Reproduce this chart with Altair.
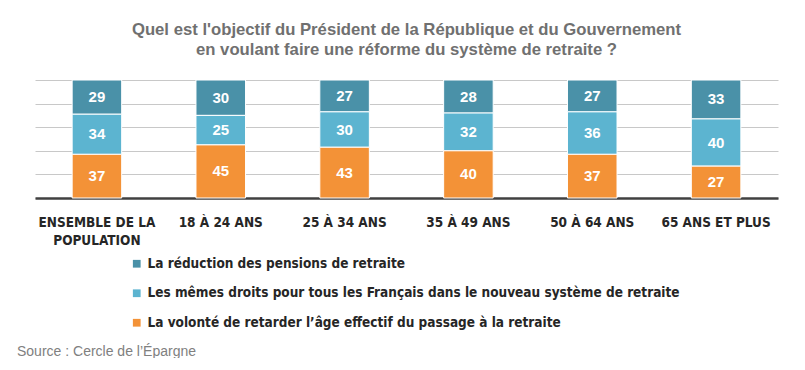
import altair as alt
import pandas as pd

categories = ["ENSEMBLE DE LA|POPULATION", "18 À 24 ANS", "25 À 34 ANS", "35 À 49 ANS", "50 À 64 ANS", "65 ANS ET PLUS"]
series = [
    "La réduction des pensions de retraite",
    "Les mêmes droits pour tous les Français dans le nouveau système de retraite",
    "La volonté de retarder l’âge effectif du passage à la retraite",
]
reduction = [29, 30, 27, 28, 27, 33]
memes_droits = [34, 25, 30, 32, 36, 40]
volonte = [37, 45, 43, 40, 37, 27]
colors = ["#4a91a8", "#5cb4d0", "#f39237"]
stack_order = [3, 2, 1]
grid_values = [0, 20, 40, 60, 80, 100]

title_lines = ["Quel est l'objectif du Président de la République et du Gouvernement",
               "en voulant faire une réforme du système de retraite  ?"]
source = "Source : Cercle  de l’Épargne"

COND = "DejaVu Sans Condensed"

rows = []
for s, vals, o in zip(series, [reduction, memes_droits, volonte], stack_order):
    for c, v in zip(categories, vals):
        rows.append({"cat": c, "serie": s, "value": v, "ord": o})
df = pd.DataFrame(rows)

base = alt.Chart(df).transform_stack(
    stack="value", groupby=["cat"], sort=[alt.SortField("ord", order="ascending")], as_=["y0", "y1"]
).transform_calculate(mid="(datum.y0 + datum.y1) / 2")

xaxis = alt.Axis(labelExpr="split(datum.label, '|')", labelAngle=0, ticks=False,
                 labelFont=COND, labelFontWeight="bold",
                 labelFontSize=13.5, labelColor="#262626", labelPadding=17,
                 labelLineHeight=18, labelLimit=300, labelBaseline="top",
                 domainColor="#404040", domainWidth=2.5)
xscale = alt.Scale(paddingInner=0.6, paddingOuter=0.3)
yaxis = alt.Axis(title=None, labels=False, ticks=False, domain=False,
                 grid=True, gridColor="#c8c8c8", values=grid_values)
yscale = alt.Scale(domain=[0, 100], nice=False)

bars = base.mark_bar(stroke="white", strokeWidth=1).encode(
    x=alt.X("cat:N", sort=categories, title=None, scale=xscale, axis=xaxis),
    y=alt.Y("y0:Q", scale=yscale, axis=yaxis, title=None),
    y2="y1:Q",
    color=alt.Color("serie:N", scale=alt.Scale(domain=series, range=colors),
                    legend=alt.Legend(title=None, orient="none", legendX=95, legendY=177,
                                      symbolType="square", symbolSize=60, symbolStrokeWidth=0,
                                      labelFont=COND, labelFontWeight="bold",
                                      labelFontSize=13.5, labelColor="#262626", labelLimit=700,
                                      rowPadding=14.5, labelOffset=4)),
)

texts = base.mark_text(font="Liberation Sans", fontWeight="bold", fontSize=15, color="white").encode(
    x=alt.X("cat:N", sort=categories, title=None, scale=xscale, axis=xaxis),
    y=alt.Y("mid:Q", scale=yscale, axis=yaxis, title=None),
    text="value:Q",
)

src = alt.Chart(pd.DataFrame({"t": [source]})).mark_text(
    align="left", baseline="middle", font="Liberation Sans", fontSize=14, color="#808080"
).encode(text="t:N", x=alt.value(-18), y=alt.value(272))

chart = alt.layer(bars, texts, src).properties(
    width=743, height=118,
    title=alt.TitleParams(text=title_lines, anchor="middle", font="Liberation Sans",
                          fontSize=16.7, fontWeight="bold", color="#707070", lineHeight=20, offset=21),
    autosize=alt.AutoSizeParams(type="none"),
    padding={"left": 27, "top": 72, "right": 19, "bottom": 160},
).configure_view(stroke=None)

chart.save("out.html", embed_options={"renderer": "svg", "actions": False})
